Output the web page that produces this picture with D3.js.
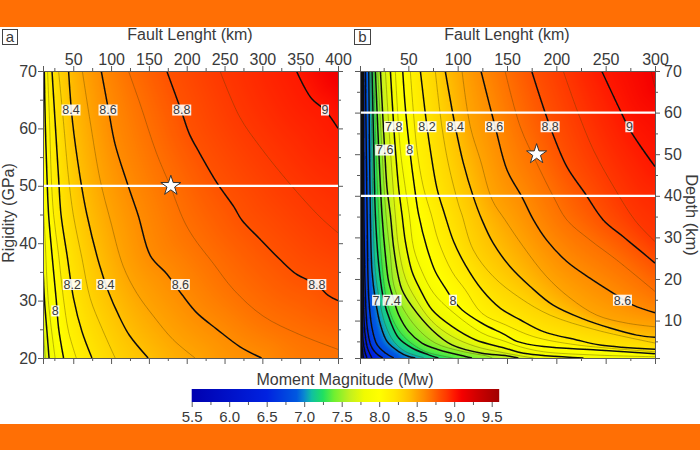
<!DOCTYPE html>
<html><head><meta charset="utf-8">
<script src="https://cdnjs.cloudflare.com/ajax/libs/d3/7.8.5/d3.min.js"></script>
<style>html,body{margin:0;padding:0;background:#fff}svg{display:block}text{font-family:"Liberation Sans",Arial,sans-serif;fill:#3a3a3a}</style>
</head><body><svg id="c" width="700" height="450"></svg>
<script>
// Colour bar
const cbValues=[5.5,6.5,6.9,7.0,7.1,7.25,7.4,7.6,7.8,8.0,8.2,8.3,8.4,8.5,8.6,8.7,8.8,8.9,9.0,9.1,9.3,9.6];
const cbColors=["#0000b0","#0022e0","#0058e0","#0a88d0","#10c0a0","#20e060","#70f030","#c0f020","#f0fb00","#ffff00","#ffe600","#ffd400","#ffc000","#ffa500","#ff8c00","#ff7000","#ff5200","#ff3800","#ff1800","#f50000","#d00000","#a00000"];
const cbTicks=[5.5,6,6.5,7,7.5,8,8.5,9,9.5];
const cbMinor=[5.75,6.25,6.75,7.25,7.75,8.25,8.75,9.25];

// Panel a contours: [fault length km, rigidity GPa]
const a77=[[10,26],[13,20]];
const a78=[[10,36],[12,30],[15,25],[18,20]];
const a79=[[10,48],[13,40],[17,30],[26,20]];
const a80=[[11.7,70],[13,61],[15.3,51.4],[17.4,45],[21.9,38],[27.6,30],[30.6,25.2],[37.2,20]];
const a81=[[16,70],[18.7,61],[21,51.4],[24,45],[30.6,38],[37,30.4],[43.8,24.6],[54,20]];
const a82=[[21.9,70],[26,61.2],[30.6,51.4],[33.8,45],[41.7,38],[50.4,30.4],[61.5,24.6],[74.7,20]];
const a83=[[30.6,70],[37,61.2],[43.8,51.4],[50,45],[61.5,37.4],[72.4,30.4],[87.8,25.2],[105.4,20]];
const a84=[[43.8,70],[49,61.2],[59.2,51.4],[68,45],[84.7,36.2],[96.6,31.5],[109.8,27.5],[124,24],[149,20]];
const a85=[[62,70],[72,61.5],[85.6,51],[99,44],[116,36],[134,31.3],[156,27.3],[182,23.2],[211,20]];
const a86=[[87,70],[96.6,63.2],[105,57.4],[121,50.6],[136,44.8],[152,37.8],[174,34.6],[193.4,31.1],[213,27.9],[240,25],[270,22],[299,20]];
const a87=[[123,70],[138,64.4],[160,55.7],[178,50],[196,44],[209,41],[235,36.5],[262,31.9],[301,27.3],[349,24.1],[400,21.5]];
const a88=[[173.6,70],[193,63],[203.6,59],[217,55.7],[240,50.5],[262,46.4],[273,44],[297,40.7],[323,37.2],[345,34.6],[372,32.8],[387,30.9],[400,30]];
const a89=[[244,70],[270,62],[297,56.8],[336,50.4],[376,44.6],[400,41.8]];
const a90=[[345,70],[365,65.2],[382.6,63.2],[400,60]];
const levelsA=[7.7,7.8,7.9,8.0,8.1,8.2,8.3,8.4,8.5,8.6,8.7,8.8,8.9,9.0];
const linesA=[a77,a78,a79,a80,a81,a82,a83,a84,a85,a86,a87,a88,a89,a90];

// Panel b contours: [fault length km, depth km]
const b58=[[1.5,70],[1.6,35],[1.8,10],[2.2,4],[3,1]];
const b60=[[1.8,70],[2,35],[2.4,10],[3,4],[4.5,1]];
const b62=[[2.5,70],[2.8,35],[3.4,10],[4.2,5],[6,2.5],[8,1]];
const b64=[[3.3,70],[3.8,35],[4.8,12],[6,7],[8.5,3.5],[13,1]];
const b66=[[4.6,70],[5,35],[6.6,15],[8.5,8],[12,4],[17,2.2],[24,1]];
const b68=[[6.5,70],[8.2,35.4],[9.9,15.4],[13.2,8.2],[18.3,4.2],[26.7,2.2],[35.2,1]];
const b70=[[9.9,70],[11.5,35.4],[13.2,21.8],[16.6,15],[21.7,9],[28.4,5],[40.2,2.56],[50.3,1.36],[57,1]];
const b71=[[11.5,70],[13.2,51],[14.2,35.4],[16.6,21.8],[20.7,15],[26.7,9],[35.2,5],[47,2.56],[65.5,1.1]];
const b72=[[13.2,70],[15,51],[16.6,35.4],[20,23.4],[25,15],[31.8,9.8],[40.2,5.8],[53.7,3.4],[70.6,1.76],[80.4,1]];
const b73=[[15,70],[17.3,51],[20,35.4],[22.7,25],[28.4,14.6],[36.8,9],[48.7,5.4],[67.2,2.56],[87.5,1.36],[95,1]];
const b74=[[16.6,70],[20,51],[23.3,35.4],[26.7,25.8],[30,19.4],[35.2,15],[40.2,11.4],[50.3,7.4],[63.8,4.6],[80.7,3],[107.7,1.36],[114.5,1]];
const b75=[[19,70],[23.3,51],[27.4,35.4],[31.8,25.8],[35.2,18.6],[43.6,13.4],[58.8,8.2],[77.3,4.6],[104.3,2.6],[131,1.4],[135,1]];
const b76=[[21.7,70],[26,51],[28.4,41.8],[31.8,35.4],[35.2,27.4],[40.2,20.2],[43.6,17.4],[53.7,13.4],[74,7.75],[94.2,4.15],[124.6,2.14],[148,1.6],[161.5,1]];
const b77=[[26.7,70],[31.8,51],[36.8,35.4],[40.2,27.4],[47,20.2],[57,15.4],[74,9.8],[94.2,6.2],[117.8,3.8],[148,2.2],[176.8,1]];
const b78=[[31.8,70],[35.2,56.6],[36.9,51],[40.2,41.8],[43.6,35.4],[47,29],[53.7,21.8],[62.2,17.4],[74,12.6],[94.2,8.6],[117.8,5.4],[148,3.36],[166.7,2.14],[227.5,1]];
const b79=[[36.8,70],[41.9,51],[47,41.8],[51,35.4],[55.4,27.4],[63.8,21.8],[75.6,16.6],[94.2,12.2],[124.6,7],[148,5],[163.3,3.7],[187,2.5],[241,1.7],[300,1.3]];
const b80=[[44.3,70],[47,61],[51.4,51],[56.4,41.8],[60.5,35.4],[68.9,27.4],[77.3,21.8],[87.5,17.8],[95.2,15],[104.3,12.6],[124.6,9.35],[148.2,6.55],[160,5],[187,3.75],[241,2.94],[300,2]];
const b81=[[52,70],[58.8,51],[65.5,41.8],[73.3,35.4],[80.7,29],[94.2,21.8],[107.7,17.4],[124.6,11.75],[148.2,9],[176.8,6.15],[220.7,4.15],[300,2.5]];
const b82=[[62.2,70],[68.9,56.6],[72.3,51],[79,41.8],[87,35.4],[95.9,29],[107.7,23.4],[124.6,17.4],[143,13],[163.3,10.2],[187,7.35],[220.7,5.35],[244.3,4.15],[300,3.1]];
const b83=[[77.3,70],[84,56.6],[90.8,47.4],[101,37.8],[104.4,35.4],[115.8,27],[136,20.6],[163.4,15.4],[193.7,11.3],[241,7.7],[300,4.6]];
const b84=[[87.4,70],[97.6,56.6],[105.7,47.9],[115.8,39.8],[124.6,34.2],[136,28.6],[153,23],[173.5,18.2],[196.8,13.7],[227,10.4],[254.5,8.2],[281.5,6.5],[300,6]];
const b85=[[104.4,70],[112.8,56.6],[123,48.6],[135,39],[148,34.2],[166.4,27.8],[190,20.6],[214,15.4],[241,11.3],[271,9.4],[300,8.5]];
const b86=[[123.6,70],[138,56.6],[150,46.2],[165,39.8],[176.8,34.2],[190,29.4],[210.6,24.2],[234,20.2],[257.6,16.6],[277.8,13.7],[300,11.9]];
const b87=[[148,70],[163.4,56.6],[180,47.9],[197,39.8],[210.6,34.2],[234,29.4],[261,24.6],[300,17]];
const b88=[[175,70],[193.7,56.6],[210.6,47],[229,40.6],[247.5,34.2],[267.6,30.2],[288,26.2],[300,23.8]];
const b89=[[207,70],[221,60.6],[237.6,51],[258,42.2],[280,34],[300,29]];
const b90=[[246,70],[264.6,60.6],[274.7,55.8],[288,51],[300,47]];
const b91=[[296,70],[300,66]];
const levelsB=[5.8,6.0,6.2,6.4,6.6,6.8,7.0,7.1,7.2,7.3,7.4,7.5,7.6,7.7,7.8,7.9,8.0,8.1,8.2,8.3,8.4,8.5,8.6,8.7,8.8,8.9,9.0,9.1];
const linesB=[b58,b60,b62,b64,b66,b68,b70,b71,b72,b73,b74,b75,b76,b77,b78,b79,b80,b81,b82,b83,b84,b85,b86,b87,b88,b89,b90,b91];

// Contour labels
const labelsA=[[47,63.2,"8.4"],[96,63.2,"8.6"],[193.4,63.2,"8.8"],[382.8,63.2,"9"],[48.7,32.8,"8.2"],[93,32.8,"8.4"],[191.6,32.8,"8.6"],[372,32.8,"8.8"],[26.3,28.2,"8"]];
const labelsB=[[35.1,56.6,"7.8"],[68.9,56.6,"8.2"],[97.6,56.6,"8.4"],[137.3,56.6,"8.6"],[193.7,56.6,"8.8"],[274,56.6,"9"],[26,51,"7.6"],[51.3,51,"8"],[17.3,14.9,"7"],[33.5,14.9,"7.4"],[95.2,14.9,"8"],[267,14.9,"8.6"]];
// Epicentre stars and reference lines
const starA=[179,50], starB=[180,50];
const refA=[50], refB=[60,40];
// Axis ticks
const xTicksA=[50,100,150,200,250,300,350,400], xMinorA=[25,75,125,175,225,275,325,375];
const yTicksA=[20,30,40,50,60,70], yMinorA=[25,35,45,55,65];
const xTicksB=[50,100,150,200,250,300], xMinorB=[25,75,125,175,225,275];
const yTicksB=[10,20,30,40,50,60,70], yMinorB=[5,15,25,35,45,55,65];

const svg=d3.select("#c");
const ORANGE="#ff6f05", AX="#5a5a5a";
svg.append("rect").attr("width",700).attr("height",27).attr("fill",ORANGE);
svg.append("rect").attr("y",424).attr("width",700).attr("height",26).attr("fill",ORANGE);

const colour=d3.scaleLinear().domain(cbValues).range(cbColors).clamp(true);
const defs=svg.append("defs");
const f2=defs.append("filter").attr("id","lineSoft").attr("filterUnits","userSpaceOnUse").attr("x",0).attr("y",0).attr("width",700).attr("height",450);
f2.append("feGaussianBlur").attr("stdDeviation",0.3);

function styleAxis(g){g.selectAll("path").attr("stroke",AX).attr("stroke-width",1);g.selectAll("line").attr("stroke",AX).attr("stroke-width",1);g.selectAll("text").attr("font-size",16).style("font-family",'"Liberation Sans",Arial,sans-serif').attr("fill","#3a3a3a");}

function panel(o){
 const x=d3.scaleLinear().domain(o.xd).range(o.xr), y=d3.scaleLinear().domain(o.yd).range(o.yr);
 const [l,r]=o.xr,[t,b]=o.yr, pad=24;
 defs.append("clipPath").attr("id","clip"+o.id).append("rect").attr("x",l).attr("y",t).attr("width",r-l).attr("height",b-t);
 const root=svg.append("g").attr("clip-path",`url(#clip${o.id})`);
 const image=root.append("image").attr("x",l).attr("y",t).attr("width",r-l).attr("height",b-t).attr("preserveAspectRatio","none");
 const curve=d3.line().x(d=>x(d[0])).y(d=>y(d[1])).curve(d3.curveCatmullRom.alpha(0.5));
 const lg=root.append("g").attr("fill","none").attr("filter","url(#lineSoft)");
 const samples=[], polys=[];
 o.lines.forEach((pts,i)=>{
  const lvl=o.levels[i];
  const major=Math.abs(Math.round(lvl*5)-lvl*5)<1e-6;
  const node=lg.append("path").attr("d",curve(pts)).attr("stroke",major?"#111":"#4a3a10").attr("stroke-opacity",major?1:0.5).attr("stroke-width",major?1.5:0.7).attr("stroke-linejoin","round").node();
  const len=node.getTotalLength(), s=[];
  for(let k=0;k<=len;k+=2.5){const q=node.getPointAtLength(k);s.push([q.x,q.y]);}
  const q=node.getPointAtLength(len);s.push([q.x,q.y]);
  samples.push(s);
  const fx=s[0][0],fy=s[0][1],lx=q.x,ly=q.y;
  const tail=(ly>=b-1.5&&lx<r-0.5)?[[lx,b+pad],[r+pad,b+pad],[r+pad,t-pad]]:[[r+pad,ly],[r+pad,t-pad]];
  const close=fy>t+0.5?[[l-pad,t-pad],[l-pad,fy]]:[[fx,t-pad]];
  polys.push(s.concat(tail,close));
 });
 // shade the field from the distance between the two contours either side of each pixel
 const W=Math.round(r-l),H=Math.round(b-t);
 const cv=document.createElement("canvas");cv.width=W;cv.height=H;
 const ctx=cv.getContext("2d"),im=ctx.createImageData(W,H);
 const nearest=(s,p)=>{let m=1e12;for(const q of s){const dx=q[0]-p[0],dy=q[1]-p[1],dd=dx*dx+dy*dy;if(dd<m)m=dd;}return Math.sqrt(m);};
 const cache=new Map();
 const rgb=v=>{const key=Math.round(v*400);if(!cache.has(key))cache.set(key,d3.rgb(colour(v)));return cache.get(key);};
 const baseCol=d3.rgb(o.base);
 for(let j=0;j<H;j++)for(let i=0;i<W;i++){
  const p=[l+i+.5,t+j+.5];
  let lo=-1,hi=polys.length-1;
  while(lo<hi){const m=Math.ceil((lo+hi)/2);if(d3.polygonContains(polys[m],p))lo=m;else hi=m-1;}
  let c;
  if(lo<0){c=baseCol;}
  else if(lo===polys.length-1){c=rgb(o.levels[lo]+Math.min(nearest(samples[lo],p)*0.0035,0.2));}
  else{const a=nearest(samples[lo],p),e=nearest(samples[lo+1],p);c=rgb(o.levels[lo]+(o.levels[lo+1]-o.levels[lo])*a/(a+e));}
  const n=(j*W+i)*4;im.data[n]=c.r;im.data[n+1]=c.g;im.data[n+2]=c.b;im.data[n+3]=255;
 }
 ctx.putImageData(im,0,0);
 image.attr("href",cv.toDataURL("image/png"));

 o.refs.forEach(v=>root.append("line").attr("x1",l).attr("x2",r).attr("y1",y(v)).attr("y2",y(v)).attr("stroke","#fff").attr("stroke-width",2.2));
 // labels
 o.labels.forEach(d=>{
  const g=root.append("g").attr("transform",`translate(${x(d[0])},${y(d[1])})`);
  const w=d[2].length>1?19:8;
  g.append("rect").attr("x",-w/2).attr("y",-5.5).attr("width",w).attr("height",11).attr("fill","#fff").attr("fill-opacity",0.9);
  g.append("text").attr("text-anchor","middle").attr("y",4.4).attr("font-size",12.5).text(d[2]);
 });
 // star
 svg.append("path").attr("d",d3.symbol(d3.symbolStar,125)()).attr("transform",`translate(${x(o.star[0])},${y(o.star[1])})`).attr("fill","#fff").attr("stroke","#333").attr("stroke-width",1);
 // axes
 const xa=svg.append("g"), add=(axis,tr)=>{const g=xa.append("g").attr("transform",tr).call(axis);styleAxis(g);return g;};
 add(d3.axisTop(x).tickValues(o.xt).tickSize(5).tickPadding(1).tickFormat(d3.format("d")),`translate(0,${t})`);
 add(d3.axisTop(x).tickValues(o.xm).tickSize(3).tickFormat(""),`translate(0,${t})`);
 add(d3.axisBottom(x).tickValues(o.xt).tickSize(6).tickFormat(""),`translate(0,${b})`);
 add(d3.axisBottom(x).tickValues(o.xm).tickSize(3).tickFormat(""),`translate(0,${b})`);
 add(d3.axisLeft(y).tickValues(o.yt).tickSize(5).tickPadding(1).tickFormat(o.labLeft?d3.format("d"):""),`translate(${l},0)`);
 add(d3.axisLeft(y).tickValues(o.ym).tickSize(3).tickFormat(""),`translate(${l},0)`);
 add(d3.axisRight(y).tickValues(o.yt).tickSize(5).tickPadding(4).tickFormat(o.labLeft?"":d3.format("d")),`translate(${r},0)`);
 add(d3.axisRight(y).tickValues(o.ym).tickSize(3).tickFormat(""),`translate(${r},0)`);
}

panel({id:"a",xd:[10,400],xr:[43,338],yd:[70,20],yr:[71,358],base:colour(7.6),levels:levelsA,lines:linesA,refs:refA,labels:labelsA,star:starA,xt:xTicksA,xm:xMinorA,yt:yTicksA,ym:yMinorA,labLeft:true});
panel({id:"b",xd:[1,300],xr:[360,655],yd:[70,1],yr:[71,358],base:"#000030",levels:levelsB,lines:linesB,refs:refB,labels:labelsB,star:starB,xt:xTicksB,xm:xMinorB,yt:yTicksB,ym:yMinorB,labLeft:false});

// Titles and panel tags
function txt(x,y,s,size,rot){const t=svg.append("text").attr("text-anchor","middle").attr("font-size",size).text(s);
 t.attr("transform",`translate(${x},${y})`+(rot?` rotate(${rot})`:""));return t;}
txt(190,40,"Fault Lenght (km)",16);
txt(507,40,"Fault Lenght (km)",16);
txt(14,213,"Rigidity (GPa)",16,-90);
txt(686,215,"Depth (km)",16.5,90);
txt(345,385,"Moment Magnitude (Mw)",16);
[[2,"a"],[354,"b"]].forEach(d=>{
 svg.append("rect").attr("x",d[0]+.5).attr("y",29.5).attr("width",d[1]=="a"?15:16).attr("height",15).attr("fill","#fff").attr("stroke","#444");
 txt(d[0]+(d[1]=="a"?8:8.5),42,d[1],15);
});

// Colour bar
const cx=d3.scaleLinear().domain([5.5,9.5]).range([191.7,491.7]);
const grad=defs.append("linearGradient").attr("id","cb");
const cbPct=d3.scaleLinear().domain([5.5,9.6]).range([0,100]);
cbValues.forEach((v,i)=>grad.append("stop").attr("offset",cbPct(v)+"%").attr("stop-color",cbColors[i]));
svg.append("rect").attr("x",cx(5.5)).attr("y",389).attr("width",cx(9.6)-cx(5.5)).attr("height",13).attr("fill","url(#cb)");
const g1=svg.append("g").attr("transform","translate(0,402)").call(d3.axisBottom(cx).tickValues(cbTicks).tickSize(5).tickSizeOuter(0).tickPadding(4).tickFormat(d3.format(".1f")));styleAxis(g1);g1.selectAll("text").attr("font-size",15);g1.select("path").remove();
const g2=svg.append("g").attr("transform","translate(0,402)").call(d3.axisBottom(cx).tickValues(cbMinor).tickSize(3).tickFormat(""));styleAxis(g2);g2.select("path").remove();
</script></body></html>
